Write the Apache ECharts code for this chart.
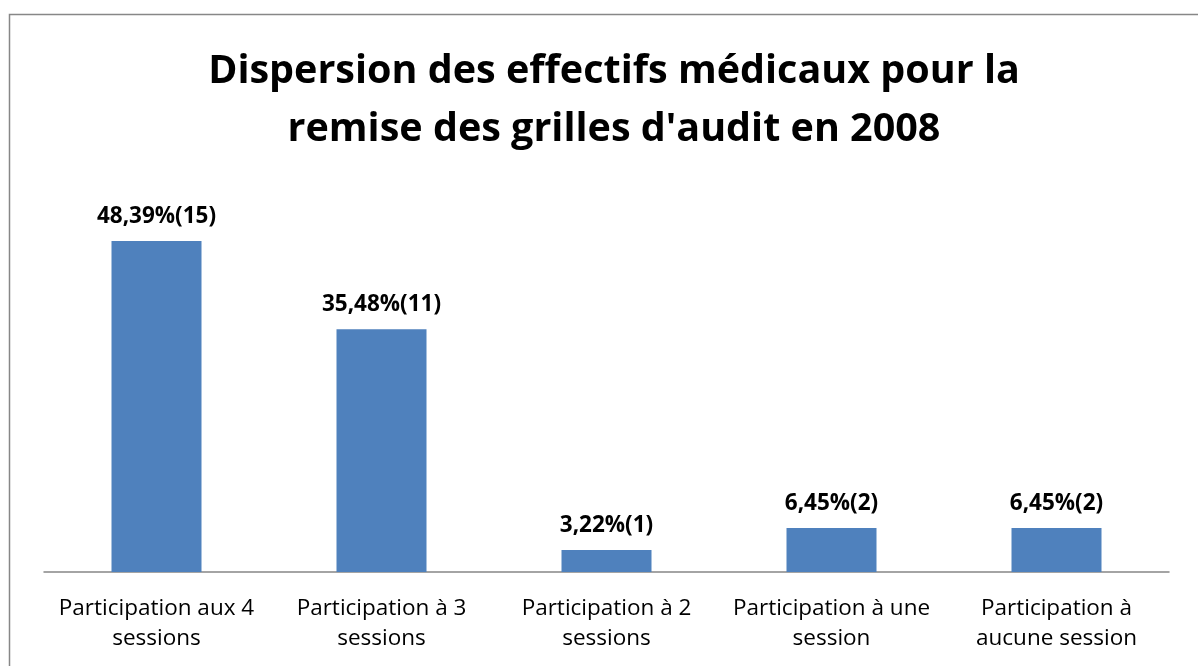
<!DOCTYPE html>
<html lang="fr">
<head>
    <meta charset="UTF-8">
    <title>Dispersion des effectifs médicaux</title>
    <style type="text/css">
        html, body { margin: 0; padding: 0; background: #fff; }
        #chart { width: 1198px; height: 666px; }
    </style>
</head>
<body>
<div id="chart"></div>
<script src="https://cdn.jsdelivr.net/npm/echarts@6/dist/echarts.min.js"></script>
<script type="text/javascript">
    // catégories et valeurs
    var categories = ['Participation aux 4\nsessions', 'Participation à 3\nsessions', 'Participation à 2\nsessions', 'Participation à une\nsession', 'Participation à\naucune session'];
    var percents = [48.39, 35.48, 3.22, 6.45, 6.45];
    var counts = [15, 11, 1, 2, 2];

    var font = '"Open Sans", "Noto Sans", sans-serif';
    var myChart = echarts.init(document.getElementById('chart'));
    var option = {
        animation: false,
        title: {
            text: 'Dispersion des effectifs médicaux pour la\nremise des grilles d\'audit en 2008',
            left: 609,
            textAlign: 'center',
            top: 38,
            textStyle: {
                fontFamily: font,
                fontSize: 39.5,
                fontWeight: 'bold',
                color: '#000',
                lineHeight: 58
            }
        },
        graphic: [{
            type: 'rect',
            shape: { x: 9.5, y: 14.5, width: 1400, height: 900 },
            style: { fill: 'none', stroke: '#878787', lineWidth: 1.5 },
            silent: true
        }],
        grid: {
            left: 44,
            right: 29,
            top: 161.6,
            bottom: 94
        },
        xAxis: {
            type: 'category',
            data: categories,
            axisLine: { lineStyle: { color: '#878787', width: 1.5 } },
            axisTick: { show: false },
            axisLabel: {
                fontFamily: font,
                fontSize: 22.5,
                color: '#000',
                lineHeight: 30,
                margin: 22,
                interval: 0
            }
        },
        yAxis: {
            type: 'value',
            min: 0,
            max: 60,
            show: false
        },
        series: [{
            type: 'bar',
            data: percents,
            barWidth: 90,
            itemStyle: { color: '#4F81BD' },
            label: {
                show: true,
                position: 'top',
                distance: 13,
                fontFamily: font,
                fontSize: 22.5,
                fontWeight: 'bold',
                color: '#000',
                formatter: function (p) {
                    return percents[p.dataIndex].toFixed(2).replace('.', ',') + '%(' + counts[p.dataIndex] + ')';
                }
            }
        }]
    };
    myChart.setOption(option);
</script>
</body>
</html>
